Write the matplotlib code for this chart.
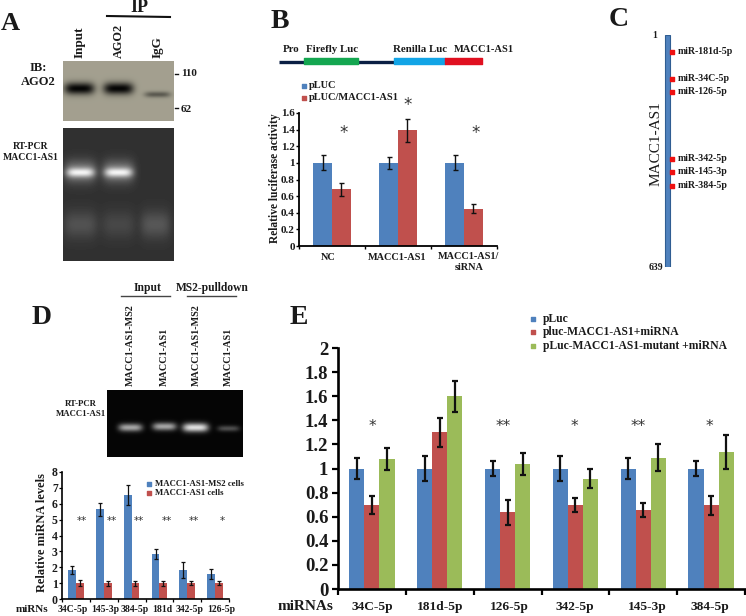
import numpy as np
import matplotlib
matplotlib.use("Agg")
import matplotlib.pyplot as plt

plt.rcParams["font.family"] = ["Liberation Serif", "DejaVu Serif"]
plt.rcParams["font.weight"] = "bold"

W, H = 746, 616
BLUE = "#4f81bd"
RED = "#c0504d"
GREEN = "#9bbb59"
TXT = "#1a1a1a"

# panel B
b_cats = ["NC", "MACC1-AS1", "MACC1-AS1/\nsiRNA"]
b_pluc = [1, 1, 1]
b_pluc_err = [0.09, 0.07, 0.09]
b_mut = [0.68, 1.39, 0.45]
b_mut_err = [0.08, 0.14, 0.05]
b_ticks = [0, 0.2, 0.4, 0.6, 0.8, 1, 1.2, 1.4, 1.6]
b_stars = ["*", "*", "*"]

# panel C
c_sites = [47, 121, 157, 341, 377, 415]
c_names = ["miR-181d-5p", "miR-34C-5p", "miR-126-5p", "miR-342-5p", "miR-145-3p", "miR-384-5p"]

# panel D
d_cats = ["34C-5p", "145-3p", "384-5p", "181d", "342-5p", "126-5p"]
d_ms2 = [1.8, 5.65, 6.55, 2.85, 1.85, 1.55]
d_ms2_err = [0.25, 0.4, 0.6, 0.3, 0.5, 0.32]
d_ctrl = [1, 1, 1, 1, 1, 1]
d_ctrl_err = [0.17, 0.16, 0.16, 0.15, 0.14, 0.13]
d_stars = ["**", "**", "**", "**", "**", "*"]
d_ticks = [0, 1, 2, 3, 4, 5, 6, 7, 8]

# panel E
e_cats = ["34C-5p", "181d-5p", "126-5p", "342-5p", "145-3p", "384-5p"]
e_pluc = [1, 1, 1, 1, 1, 1]
e_pluc_err = [0.09, 0.10, 0.06, 0.10, 0.09, 0.06]
e_mirna = [0.70, 1.30, 0.635, 0.695, 0.655, 0.695]
e_mirna_err = [0.075, 0.12, 0.10, 0.06, 0.06, 0.08]
e_mutant = [1.08, 1.60, 1.04, 0.915, 1.09, 1.14]
e_mutant_err = [0.09, 0.13, 0.09, 0.08, 0.11, 0.14]
e_stars = ["*", "**", "*", "**", "*"]
e_ticks = [0, 0.2, 0.4, 0.6, 0.8, 1, 1.2, 1.4, 1.6, 1.8, 2]

fig = plt.figure(figsize=(W / 100, H / 100), dpi=100)


def px_axes(x0, y0, x1, y1):
    # box given in image pixels, y going down
    return fig.add_axes([x0 / W, 1 - y1 / H, (x1 - x0) / W, (y1 - y0) / H])


def gel(box, base, bands):
    # bands: centre x, centre y, half width, half height, strength
    x0, y0, x1, y1 = box
    xx, yy = np.meshgrid(np.arange(x0, x1), np.arange(y0, y1))
    img = np.full(xx.shape, float(base))
    for cx, cy, sx, sy, amp in bands:
        img += amp * np.exp(-(np.abs(xx - cx) / sx) ** 4 - (np.abs(yy - cy) / sy) ** 2)
    ax = px_axes(x0, y0, x1, y1)
    return ax, np.clip(img, 0, 1)


def bar_panel(box, ymax, ticks, labels, series, width, err_cap, lw, tick_size, tick_len, tick_pad):
    ax = px_axes(*box)
    x = np.arange(len(labels))
    off = (np.arange(len(series)) - (len(series) - 1) / 2) * width
    for (vals, errs, col), o in zip(series, off):
        ax.bar(x + o, vals, width, color=col, zorder=2)
        ax.errorbar(x + o, vals, yerr=errs, fmt="none", ecolor="#111111",
                    elinewidth=lw, capsize=err_cap, capthick=lw, zorder=3)
    ax.set_xlim(-0.5, len(labels) - 0.5)
    ax.set_ylim(0, ymax)
    ax.set_yticks(ticks)
    ax.set_yticklabels([f"{t:g}" for t in ticks], fontsize=tick_size, color=TXT)
    ax.set_xticks(np.arange(len(labels) + 1) - 0.5)
    ax.set_xticklabels([])
    ax.spines["top"].set_visible(False)
    ax.spines["right"].set_visible(False)
    ax.spines["left"].set_linewidth(lw + 0.3)
    ax.spines["bottom"].set_linewidth(lw + 0.3)
    ax.tick_params(length=tick_len, width=lw, pad=tick_pad)
    ax.patch.set_alpha(0)
    return ax


# panel A blots
ax, img = gel((63, 61, 174, 121), 0.64,
              [(79, 88, 15, 6, -0.62), (118, 88, 15, 6, -0.62), (157, 94, 13, 3, -0.28)])
ax.imshow(np.dstack([img, img * 0.98, img * 0.88]), aspect="auto")
ax.axis("off")

ax, img = gel((63, 128, 174, 261), 0.19,
              [(80, 171, 16, 11, 0.32), (118, 171, 16, 11, 0.32),
               (80, 172, 14, 4.5, 0.45), (118, 172, 14, 4.5, 0.45),
               (80, 224, 17, 14, 0.13), (118, 224, 17, 14, 0.09), (155, 224, 15, 14, 0.15)])
ax.imshow(img, cmap="gray", vmin=0, vmax=1, aspect="auto")
ax.axis("off")

# panel D gel
ax, img = gel((107, 390, 243, 457), 0.02,
              [(130, 427, 12, 4, 0.62), (164, 426, 12, 4, 0.62),
               (195, 427, 13, 4.5, 0.85), (228, 428, 11, 3, 0.28)])
ax.imshow(img, cmap="gray", vmin=0, vmax=1, aspect="auto")
ax.axis("off")

# bar charts
ax_b = bar_panel((299, 113, 497, 246), 1.6, b_ticks, b_cats,
                 [(b_pluc, b_pluc_err, BLUE), (b_mut, b_mut_err, RED)], 0.285, 1.8, 1.0, 8, 2, 1)

ax_d = bar_panel((62, 472, 229, 599), 8, d_ticks, d_cats,
                 [(d_ms2, d_ms2_err, BLUE), (d_ctrl, d_ctrl_err, RED)], 0.28, 1.1, 0.9, 8.5, 2, 1)

ax_e = bar_panel((338, 348, 745, 589), 2, e_ticks, e_cats,
                 [(e_pluc, e_pluc_err, BLUE), (e_mirna, e_mirna_err, RED), (e_mutant, e_mutant_err, GREEN)],
                 0.222, 2.4, 1.6, 13.5, 4, 3)

# panel C
ax_c = px_axes(655, 35, 690, 267)
ax_c.set_xlim(0, 35)
ax_c.set_ylim(639, 1)
ax_c.bar([12.5], [638], 5, bottom=1, color=BLUE, edgecolor="#2f5d92", linewidth=0.8)
ax_c.scatter([17] * len(c_sites), c_sites, marker="s", s=12, color="#ee1111", zorder=3, clip_on=False)
ax_c.axis("off")

# everything else placed in image pixels
ov = fig.add_axes([0, 0, 1, 1])
ov.set_xlim(0, W)
ov.set_ylim(H, 0)
ov.axis("off")
ov.patch.set_alpha(0)


def t(x, y, s, size=8, ha="center", va="center", rot=0, **kw):
    ov.text(x, y, s, fontsize=size, ha=ha, va=va, rotation=rot, color=kw.pop("color", TXT),
            linespacing=kw.pop("linespacing", 1.05), **kw)


def star(x, y, s, size):
    ov.text(x, y, s, fontsize=size, ha="center", va="center", color="#333333",
            fontweight="normal", family="DejaVu Sans")


# panel letters
t(10, 23, "A", 19)
t(280, 21, "B", 20)
t(619, 20, "C", 20)
t(42, 318, "D", 20)
t(299, 317, "E", 20)

# A labels
t(139, 8, "IP", 13)
ov.plot([107, 170], [16, 17], color="#111111", lw=1.5)
t(80, 58, "Input", 9.5, rot=90, va="bottom")
t(119, 58, "AGO2", 8.8, rot=90, va="bottom")
t(158, 58, "IgG", 9.5, rot=90, va="bottom")
t(38, 75, "IB:\nAGO2", 9, linespacing=1.2)
t(31, 152, "RT-PCR\nMACC1-AS1", 7, linespacing=1.2)
ov.plot([175, 178], [74, 74], color="#111111", lw=1)
ov.plot([175, 178], [108, 108], color="#111111", lw=1)
t(181, 74, "110", 8, ha="left")
t(181, 109, "62", 8, ha="left")

# B schematic and labels
t(291, 50, "Pro", 7.8)
t(332, 50, "Firefly Luc", 7.8)
t(420, 50, "Renilla Luc", 7.8)
t(484, 50, "MACC1-AS1", 7.6)
ov.plot([279, 482], [62, 62], color="#0a1f44", lw=2.4, solid_capstyle="butt", zorder=1)
ov.fill_between([304, 358], 58, 63.5, color="#14a650", zorder=2)
ov.fill_between([394, 445], 58, 63.5, color="#12a4e6", zorder=2)
ov.fill_between([445, 482], 58, 63.5, color="#e01020", zorder=2)
ov.scatter([304], [86], marker="s", s=12, color=BLUE)
ov.scatter([304], [97.5], marker="s", s=12, color=RED)
t(309, 86, "pLUC", 7.5, ha="left")
t(309, 98, "pLUC/MACC1-AS1", 7.5, ha="left")
t(275, 178, "Relative luciferase activity", 8.3, rot=90)
t(328, 257, "NC", 7.4)
t(397, 257, "MACC1-AS1", 7.4)
t(469, 262, "MACC1-AS1/\nsiRNA", 7.4, linespacing=1.15)
for x, y, s in zip([344, 408, 476], [133, 105, 133], b_stars):
    star(x, y, s, 12)

# C labels
t(657, 36, "1", 7, ha="right")
t(663, 268, "639", 7, ha="right")
t(656, 144, "MACC1-AS1", 11, rot=90, fontweight="normal")
for site, name in zip(c_sites, c_names):
    t(678, 35 + (site - 1) * 232 / 638, name, 7.1, ha="left")

# D labels
t(148, 288, "Input", 8.3)
t(212, 288, "MS2-pulldown", 8.3)
ov.plot([121, 170], [296, 296], color="#444444", lw=1)
ov.plot([187, 236], [296, 296], color="#444444", lw=1)
for x, s in zip([130, 164, 196, 228], ["MACC1-AS1-MS2", "MACC1-AS1", "MACC1-AS1-MS2", "MACC1-AS1"]):
    t(x, 386, s, 7.3, rot=90, va="bottom")
t(81, 409, "RT-PCR\nMACC1-AS1", 6.3, linespacing=1.25)
t(42, 533, "Relative miRNA levels", 8.9, rot=90)
ov.scatter([149], [483.5], marker="s", s=9, color=BLUE)
ov.scatter([149], [493], marker="s", s=9, color=RED)
t(155, 484, "MACC1-AS1-MS2 cells", 6.35, ha="left")
t(155, 493, "MACC1-AS1 cells", 6.35, ha="left")
t(32, 609, "miRNs", 8)
for x, s in zip([73, 105, 135, 162, 190, 221], d_cats):
    t(x, 609, s, 7)
for x, s in zip([82, 112, 139, 167, 194, 222], d_stars):
    star(x, 521, s, 7.5)

# E labels
ov.scatter([533], [319], marker="s", s=12, color=BLUE)
ov.scatter([533], [332], marker="s", s=12, color=RED)
ov.scatter([533], [346], marker="s", s=12, color=GREEN)
t(543, 319, "pLuc", 8.4, ha="left")
t(543, 332, "pluc-MACC1-AS1+miRNA", 8.4, ha="left")
t(543, 346, "pLuc-MACC1-AS1-mutant +miRNA", 8.4, ha="left")
t(306, 606, "miRNAs", 11)
for x, s in zip([372, 440, 509, 575, 647, 710], e_cats):
    t(x, 607, s, 9.6)
for x, s in zip([372, 503, 574, 638, 709], e_stars):
    star(x, 426, s, 11)

fig.savefig("out.png", dpi=100)
